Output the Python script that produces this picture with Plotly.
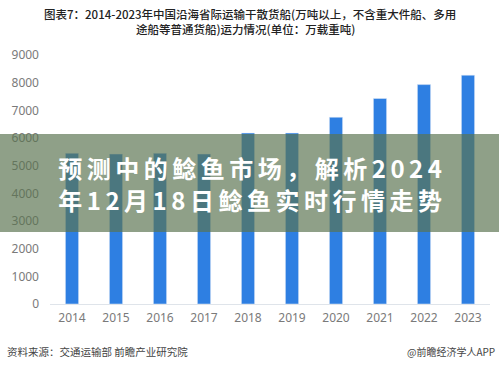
import plotly.graph_objects as go

years = ["2014", "2015", "2016", "2017", "2018", "2019", "2020", "2021", "2022", "2023"]
capacity = [5450, 5420, 5450, 5420, 6180, 6180, 6750, 7430, 7930, 8270]
y_ticks = [0, 1000, 2000, 3000, 4000, 5000, 6000, 7000, 8000, 9000]

title_line1 = "图表7：2014-2023年中国沿海省际运输干散货船(万吨以上，不含重大件船、多用"
title_line2 = "途船等普通货船)运力情况(单位：万载重吨)"
banner_line1 = "预测中的鲶鱼市场，解析2024"
banner_line2 = "年12月18日鲶鱼实时行情走势"
source_text = "资料来源：交通运输部 前瞻产业研究院"
credit_text = "@前瞻经济学人APP"

W, H = 499, 367
L, R, T, B = 50, 9, 55, 63
ph = H - T - B
pw = W - L - R

def py(px):
    return (H - B - px) / ph

def pxx(px):
    return (px - L) / pw

CJK = "Noto Sans CJK SC"

fig = go.Figure()
fig.add_trace(go.Bar(x=years, y=capacity, marker_color="#2E7FE2", width=0.3))

fig.update_layout(
    width=W, height=H,
    margin=dict(l=L, r=R, t=T, b=B),
    paper_bgcolor="white", plot_bgcolor="white",
    showlegend=False,
    font=dict(family=CJK),
)
fig.update_xaxes(
    type="category", showgrid=False, showline=True, linecolor="#dfe4ea", linewidth=1,
    ticks="", tickfont=dict(size=12, color="#7a7a7a", family="Noto Sans"),
    ticklabelstandoff=3,
)
fig.update_yaxes(
    range=[0, 9000], tickvals=y_ticks, showgrid=False, zeroline=False, showline=False,
    ticks="", tickfont=dict(size=12, color="#7a7a7a", family="Noto Sans"),
    ticklabelstandoff=10,
)

# banner
fig.add_shape(type="rect", xref="paper", yref="paper",
              x0=pxx(-5), x1=pxx(505), y0=py(232), y1=py(134),
              fillcolor="rgba(90,115,80,0.68)", line=dict(width=0), layer="above")

ann = []
ann.append(dict(text=title_line1, x=pxx(250), y=py(14), xref="paper", yref="paper",
                showarrow=False, xanchor="center", yanchor="middle",
                font=dict(size=11.5, color="#222222", family=CJK, weight=500)))
ann.append(dict(text=title_line2, x=pxx(245), y=py(29), xref="paper", yref="paper",
                showarrow=False, xanchor="center", yanchor="middle",
                font=dict(size=11.5, color="#222222", family=CJK, weight=500)))
ann.append(dict(text="<b>" + banner_line1 + "</b>", x=pxx(252), y=py(167), xref="paper", yref="paper",
                showarrow=False, xanchor="center", yanchor="middle",
                font=dict(size=24, color="white", family=CJK)))
ann.append(dict(text="<b>" + banner_line2 + "</b>", x=pxx(252), y=py(199), xref="paper", yref="paper",
                showarrow=False, xanchor="center", yanchor="middle",
                font=dict(size=24, color="white", family=CJK)))
ann.append(dict(text=source_text, x=pxx(5), y=py(351), xref="paper", yref="paper",
                showarrow=False, xanchor="left", yanchor="middle",
                font=dict(size=10.5, color="#444444", family=CJK)))
ann.append(dict(text=credit_text, x=pxx(497), y=py(351), xref="paper", yref="paper",
                showarrow=False, xanchor="right", yanchor="middle",
                font=dict(size=10, color="#444444", family=CJK)))
fig.update_layout(annotations=ann)

post = """
document.body.style.margin='0px';
document.querySelectorAll('.annotation-text').forEach(function(t){
  var s = t.textContent;
  if (s.indexOf('鲶鱼') >= 0) { t.style.letterSpacing = '4.5px'; }
});
"""

fig.write_html("out.html", config={"displayModeBar": False}, post_script=post)
